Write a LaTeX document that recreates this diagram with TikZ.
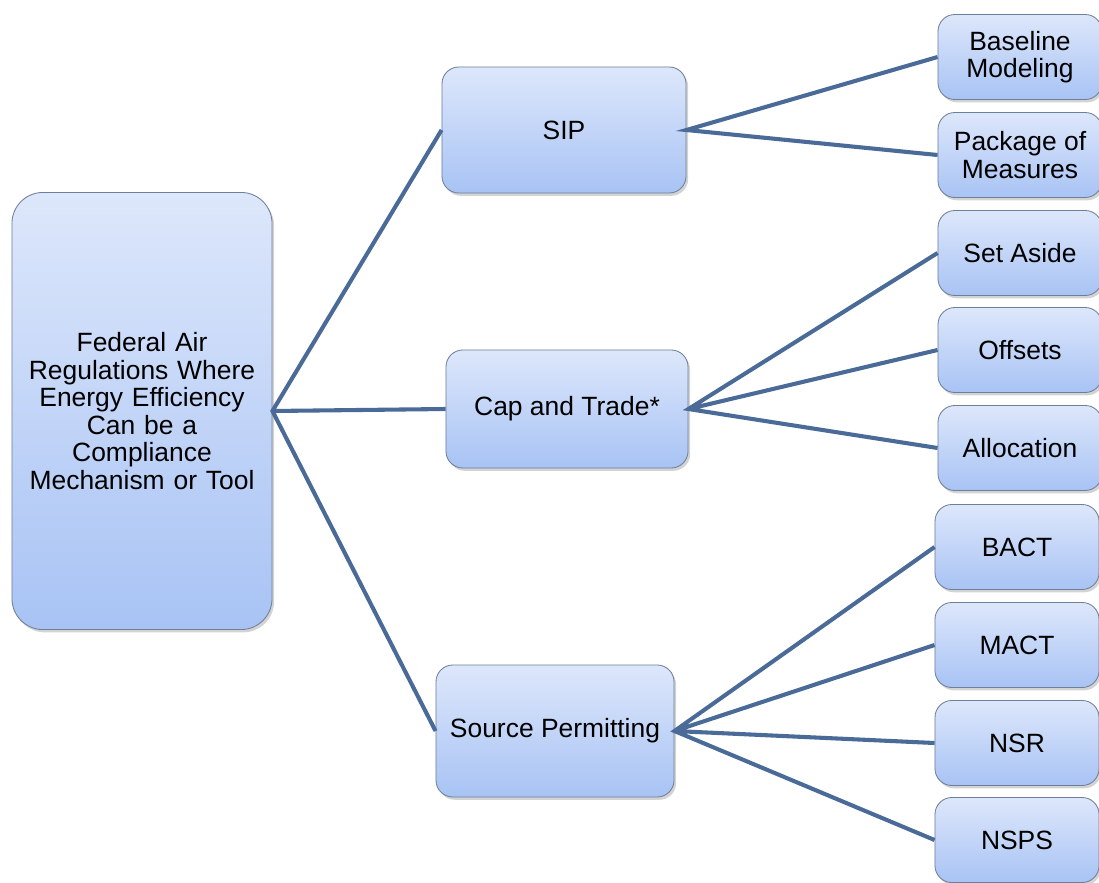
\documentclass[tikz,border=0pt]{standalone}
\usepackage{fontspec}
\setmainfont{Liberation Sans}
\usetikzlibrary{shadows}
\definecolor{boxtop}{HTML}{DDE7FB}
\definecolor{boxbot}{HTML}{A8C3F4}
\definecolor{boxline}{HTML}{6E7F99}
\definecolor{linkcol}{HTML}{4A6A98}

\begin{document}
\begin{tikzpicture}[x=0.025cm, y=-0.025cm]
\tikzstyle{box}=[draw=boxline, line width=0.6pt, top color=boxtop,
  bottom color=boxbot, rounded corners=12, align=center, inner sep=0pt,
  font=\fontsize{18.8}{19.5}\selectfont,
  drop shadow={shadow xshift=1.5pt, shadow yshift=-2pt, opacity=0.35}]
\tikzstyle{leaf}=[box, minimum width=4.1cm, minimum height=2.125cm]
\tikzstyle{link}=[draw=linkcol, line width=2.9pt]
\clip (0,0) rectangle (1099,882);
\useasboundingbox (0,0) rectangle (1099,882);

% root
\node[box, rounded corners=22, minimum width=6.5cm, minimum height=10.925cm,
  text width=6.4cm] (fed) at (142,411)
  {Federal Air\\Regulations Where\\Energy Efficiency\\Can be a\\Compliance\\Mechanism or Tool};

% middle level
\node[box, minimum width=6.1cm, minimum height=3.15cm] (sip) at (564,130) {SIP};
\node[box, minimum width=6.05cm, minimum height=2.95cm] (cap) at (567,409) {Cap and Trade*};
\node[box, minimum width=5.95cm, minimum height=3.3cm] (src) at (555,731) {Source Permitting};

% leaves
\node[leaf] (base) at (1020,57) {Baseline\\Modeling};
\node[leaf] (pack) at (1020,155) {Package of\\Measures};
\node[leaf] (set) at (1020,253) {Set Aside};
\node[leaf] (off) at (1020,350) {Offsets};
\node[leaf] (alloc) at (1020,448) {Allocation};
\node[leaf] (bact) at (1017,547) {BACT};
\node[leaf] (mact) at (1017,645) {MACT};
\node[leaf] (nsr) at (1017,743) {NSR};
\node[leaf] (nsps) at (1017,840) {NSPS};

% links
\draw[link] (sip.west) -- (fed.east) -- (src.west)
      (fed.east) -- (cap.west);
\draw[link] (base.west) -- (sip.east) -- (pack.west);
\draw[link] (set.west) -- (cap.east) -- (alloc.west)
      (cap.east) -- (off.west);
\draw[link] (bact.west) -- (src.east) -- (nsps.west)
      (src.east) -- (mact.west)
      (src.east) -- (nsr.west);
\end{tikzpicture}
\end{document}
